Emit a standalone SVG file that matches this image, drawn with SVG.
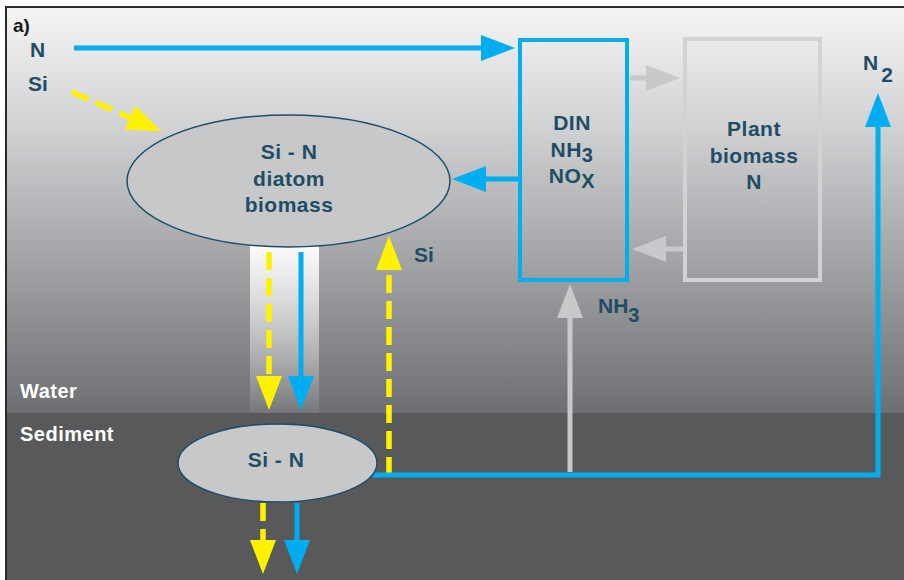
<svg xmlns="http://www.w3.org/2000/svg" width="904" height="580" viewBox="0 0 904 580">
<defs>
<linearGradient id="water" x1="0" y1="7" x2="0" y2="413" gradientUnits="userSpaceOnUse">
<stop offset="0" stop-color="#f5f5f5"/>
<stop offset="0.3" stop-color="#d0d1d3"/>
<stop offset="1" stop-color="#6e6f72"/>
</linearGradient>
<linearGradient id="glow" x1="0" y1="246" x2="0" y2="413" gradientUnits="userSpaceOnUse">
<stop offset="0" stop-color="#ffffff" stop-opacity="0.95"/>
<stop offset="1" stop-color="#ffffff" stop-opacity="0.05"/>
</linearGradient>
<marker id="hb" viewBox="0 0 34 26" markerWidth="34" markerHeight="26" refX="0" refY="13" orient="auto" markerUnits="userSpaceOnUse"><path d="M0,0 L34,13 L0,26 z" fill="#00aeef"/></marker>
<marker id="hy" viewBox="0 0 34 26" markerWidth="34" markerHeight="26" refX="0" refY="13" orient="auto" markerUnits="userSpaceOnUse"><path d="M0,0 L34,13 L0,26 z" fill="#fff200"/></marker>
<marker id="hg" viewBox="0 0 34 26" markerWidth="34" markerHeight="26" refX="0" refY="13" orient="auto" markerUnits="userSpaceOnUse"><path d="M0,0 L34,13 L0,26 z" fill="#c8c9cb"/></marker>
</defs>
<style>
.t{font-family:"Liberation Sans",Arial,sans-serif;font-weight:bold;fill:#1e4d64;font-size:21px;letter-spacing:0.5px;text-anchor:middle}
.l{font-family:"Liberation Sans",Arial,sans-serif;font-weight:bold;fill:#1e4d64;font-size:21px}
.w{font-family:"Liberation Sans",Arial,sans-serif;font-weight:bold;fill:#ffffff;font-size:20px;letter-spacing:0.5px}
.blue{stroke:#00aeef;stroke-width:5;fill:none}
.yel{stroke:#fff200;stroke-width:5.5;fill:none;stroke-dasharray:18 8}
.gry{stroke:#c8c9cb;stroke-width:5;fill:none}
.ell{fill:#c7c8ca;stroke:#1e4d64;stroke-width:1.5}
</style>
<rect x="0" y="0" width="904" height="580" fill="#ffffff"/>
<rect x="6" y="7" width="898" height="406" fill="url(#water)"/>
<rect x="6" y="413" width="898" height="167" fill="#58595b"/>
<path d="M6,580 V7 H904" fill="none" stroke="#2a2a2c" stroke-width="2"/>
<rect x="250" y="246" width="69" height="167" fill="url(#glow)"/>
<text x="13" y="32" font-family="Liberation Sans,Arial,sans-serif" font-weight="bold" font-size="19" fill="#1a1a1a">a)</text>
<text class="l" x="30" y="57">N</text>
<text class="l" x="28" y="91">Si</text>
<text class="w" x="20" y="398">Water</text>
<text class="w" x="20" y="441">Sediment</text>
<g id="connectors">
<path class="blue" d="M74,48 H481" marker-end="url(#hb)"/>
<path class="yel" d="M72,92 L130,117.5" marker-end="url(#hy)"/>
<path class="blue" d="M518,179 H486" marker-end="url(#hb)"/>
<path class="gry" d="M630,78 H646" marker-end="url(#hg)"/>
<path class="gry" d="M683,249 H666" marker-end="url(#hg)"/>
<path class="yel" d="M269,252 V376" marker-end="url(#hy)"/>
<path class="blue" d="M301,252 V376" marker-end="url(#hb)"/>
<path class="yel" d="M389,475 V270" marker-end="url(#hy)"/>
<path class="gry" d="M570,472 V318" marker-end="url(#hg)"/>
<path class="blue" d="M372,475 H878 V127" marker-end="url(#hb)"/>
<path class="yel" d="M263,503 V540" marker-end="url(#hy)"/>
<path class="blue" d="M297,503 V540" marker-end="url(#hb)"/>
</g>
<g id="diatom">
<ellipse class="ell" cx="288.5" cy="181" rx="161.5" ry="66"/>
<text class="t" x="289" y="159">Si - N</text>
<text class="t" x="289" y="186">diatom</text>
<text class="t" x="289" y="212">biomass</text>
</g>
<g id="din">
<rect x="520" y="40" width="107" height="240" fill="none" stroke="#00aeef" stroke-width="4"/>
<text class="t" x="572" y="130">DIN</text>
<text class="t" x="572" y="157">NH<tspan font-size="20" dy="5">3</tspan></text>
<text class="t" x="572" y="183">NO<tspan font-size="20" dy="5">X</tspan></text>
</g>
<g id="plant">
<rect x="685" y="39" width="135" height="241" fill="none" stroke="#d1d2d4" stroke-width="4"/>
<text class="t" x="754" y="136">Plant</text>
<text class="t" x="754" y="163">biomass</text>
<text class="t" x="754" y="189">N</text>
</g>
<g id="sediment-sin">
<ellipse class="ell" cx="277.5" cy="463" rx="99.5" ry="39"/>
<text class="t" x="276" y="467">Si - N</text>
</g>
<g id="labels">
<text class="l" x="414" y="262">Si</text>
<text class="l" x="598" y="313">NH<tspan font-size="20" dy="9">3</tspan></text>
<text class="l" x="863" y="70" font-size="22">N<tspan dx="3" dy="12">2</tspan></text>
</g>
</svg>
